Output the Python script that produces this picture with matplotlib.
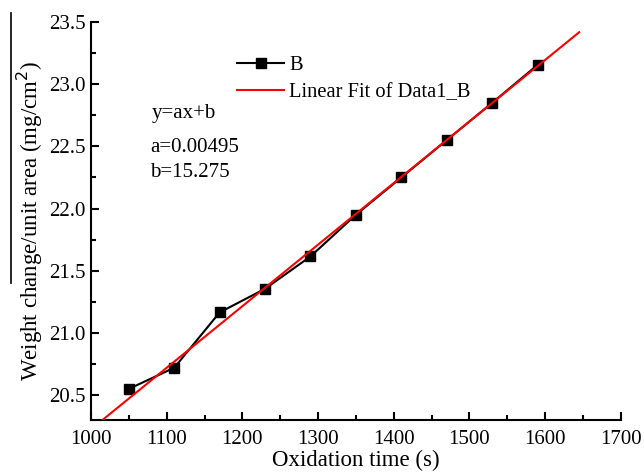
import numpy as np
import matplotlib
matplotlib.use('Agg')
import matplotlib.pyplot as plt
from matplotlib.ticker import MultipleLocator, FormatStrFormatter
from matplotlib.lines import Line2D

### Data
time_s = [1050, 1110, 1170, 1230, 1290, 1350, 1410, 1470, 1530, 1590]
weight = [20.55, 20.72, 21.165, 21.355, 21.615, 21.95, 22.25, 22.55, 22.85, 23.155]
fit_a, fit_b = 0.00495, 15.275
fit_range = [1015, 1645]

def main():
    plt.rcParams['font.family'] = ['Liberation Serif', 'DejaVu Serif']
    fig = plt.figure(figsize=(6.44, 4.75), dpi=100)
    ax = fig.add_axes([0.1413, 0.1158, 0.8227, 0.8379])

    xf = np.array(fit_range)
    ax.plot(time_s, weight, color='black', lw=1.5, marker='s', ms=7,
            label='B', zorder=3)
    ax.plot(xf, fit_a*xf + fit_b, color='red', lw=1.5,
            label='Linear Fit of Data1_B', zorder=4)

    ax.set_xlim(1000, 1700)
    ax.set_ylim(20.3, 23.5)
    ax.xaxis.set_major_locator(MultipleLocator(100))
    ax.xaxis.set_minor_locator(MultipleLocator(50))
    ax.yaxis.set_major_locator(MultipleLocator(0.5))
    ax.yaxis.set_minor_locator(MultipleLocator(0.25))
    ax.yaxis.set_major_formatter(FormatStrFormatter('%.1f'))
    ax.tick_params(which='major', direction='in', length=6, width=1.5, labelsize=15)
    ax.tick_params(axis='x', which='major', pad=7)
    ax.tick_params(axis='y', which='major', pad=4)
    ax.tick_params(which='minor', direction='in', length=3.5, width=1.5)
    ax.spines['top'].set_visible(False)
    ax.spines['right'].set_visible(False)
    for s in ['left', 'bottom']:
        ax.spines[s].set_linewidth(1.5)

    ax.set_xlabel('Oxidation time (s)', fontsize=16.5, labelpad=1)
    ax.set_ylabel('Weight change/unit area (mg/cm$^2$)', fontsize=16.5, labelpad=3)

    ax.legend(loc='upper left', bbox_to_anchor=(0.368, 0.883), bbox_transform=fig.transFigure,
              frameon=False, fontsize=14.8, handlelength=2.3, handletextpad=0.25,
              labelspacing=0.4, borderpad=0, borderaxespad=0)

    ax.text(0.236, 0.762, 'y=ax+b', transform=fig.transFigure, fontsize=15, va='center')
    ax.text(0.233, 0.690, 'a=0.00495', transform=fig.transFigure, fontsize=15, va='center')
    ax.text(0.233, 0.637, 'b=15.275', transform=fig.transFigure, fontsize=15, va='center')

    fig.add_artist(Line2D([0.017, 0.017], [0.404, 0.973], transform=fig.transFigure,
                          color='black', lw=1.2))

    plt.savefig('out.png', dpi=100)
    return

if __name__ == '__main__':
    main()
